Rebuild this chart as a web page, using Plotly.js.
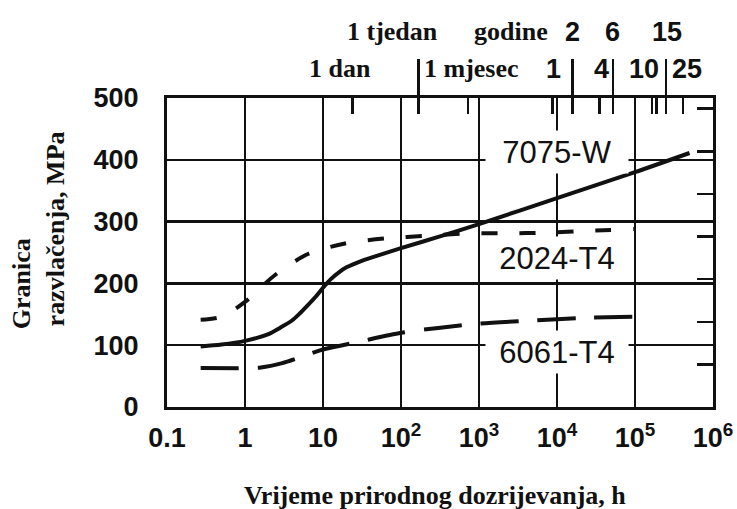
<!DOCTYPE html>
<html>
<head>
<meta charset="utf-8">
<script src="https://cdn.plot.ly/plotly-3.0.1.min.js"></script>
<style>html,body{margin:0;padding:0;background:#fff;}#chart{width:737px;height:509px;}</style>
</head>
<body>
<div id="chart"></div>
<script>
// ---- data (hours vs yield strength, MPa) ----
const hours7075 = [0.27, 0.5, 1, 2, 2.8, 4, 5, 6.3, 8, 10, 12.6, 16, 20, 32, 50, 100, 316, 1000, 1e4, 1e5, 5e5];
const mpa7075   = [98, 101, 107, 118, 128, 140, 151, 164, 178, 193, 207, 218, 226, 237, 245, 257, 276, 296, 338, 380, 411];

const hours2024 = [0.27, 0.5, 1, 2.45, 6.5, 20, 66, 216, 725, 2150, 7400, 24000, 1e5];
const mpa2024   = [141, 146, 170, 214, 248, 265, 273, 277, 281, 281, 282, 285, 288];

const hours6061 = [0.27, 1, 1.6, 3, 5, 10, 30, 100, 300, 1000, 5000, 2e4, 1e5];
const mpa6061   = [63, 63, 64, 71, 80, 93, 106, 120, 128, 135, 140, 144, 146];

const seriesNames = ['7075-W', '2024-T4', '6061-T4'];

// bottom axis ticks
const xTickVals = [0.1, 1, 10, 100, 1000, 1e4, 1e5, 1e6];
const xTickText = ['0.1', '1', '10', '10<sup>2</sup>', '10<sup>3</sup>', '10<sup>4</sup>', '10<sup>5</sup>', '10<sup>6</sup>'];
const yTickVals = [0, 100, 200, 300, 400, 500];

// top time-scale ticks (hours)
const topShortTicks = [24, 720, 8760, 35040, 165000, 190000, 410000];
const topLongTicks  = [168, 15800, 52000, 248000];
// right-side ticks (ksi)
const ksiTicks = [10, 20, 30, 40, 50, 60, 70];
const mpaPerKsi = 6.894757;

// top labels: text, hour position, row
const topLabelText  = ['1 tjedan', 'godine', '2', '6', '15', '1 dan', '1 mjesec', '1', '4', '10', '25'];
const topLabelHours = [77, 2580, 16000, 52000, 257000, 16.6, 800, 8900, 37500, 130000, 460000];
const topLabelRow   = [1, 1, 1, 1, 1, 2, 2, 2, 2, 2, 2];
const topLabelSerif = [true, true, false, false, false, true, true, false, false, false, false];

// curve label positions (hours, MPa)
const curveLabelHours = [1e4, 1e4, 1e4];
const curveLabelMpa   = [412, 241, 89];

const serif = "'Liberation Serif', 'Times New Roman', serif";
const sans = "'Liberation Sans', Arial, sans-serif";

const hidden = {color: 'rgba(0,0,0,0)', width: 0};
const traces = [
  {x: hours7075, y: mpa7075, name: seriesNames[0], mode: 'lines',
   line: {color: '#111', width: 4, shape: 'spline', smoothing: 0.8}},
  {x: hours2024, y: mpa2024, name: seriesNames[1], mode: 'lines',
   line: {color: '#111', width: 4, dash: '16px,22px', shape: 'spline', smoothing: 0.8}},
  {x: hours6061, y: mpa6061, name: seriesNames[2], mode: 'lines',
   line: {color: '#111', width: 4, dash: '38px,19px', shape: 'spline', smoothing: 0.8}},
  // invisible carriers so the extra tick axes are drawn
  {x: hours7075, y: mpa7075, xaxis: 'x2', yaxis: 'y', mode: 'lines', line: hidden, hoverinfo: 'skip'},
  {x: hours7075, y: mpa7075, xaxis: 'x3', yaxis: 'y', mode: 'lines', line: hidden, hoverinfo: 'skip'},
  {x: hours7075, y: mpa7075.map(v => v / mpaPerKsi), xaxis: 'x', yaxis: 'y2', mode: 'lines', line: hidden, hoverinfo: 'skip'}
];

const annotations = [];
for (let i = 0; i < topLabelText.length; i++) {
  annotations.push({
    xref: 'x', yref: 'paper', x: Math.log10(topLabelHours[i]),
    y: topLabelRow[i] === 1 ? 1.215 : 1.095,
    text: '<b>' + topLabelText[i] + '</b>',
    showarrow: false, xanchor: 'center', yanchor: 'middle',
    font: topLabelSerif[i] ? {family: serif, size: 26, color: '#111'}
                           : {family: sans, size: 27, color: '#111'}
  });
}
for (let i = 0; i < seriesNames.length; i++) {
  annotations.push({
    xref: 'x', yref: 'y', x: Math.log10(curveLabelHours[i]), y: curveLabelMpa[i],
    text: seriesNames[i], showarrow: false, xanchor: 'center', yanchor: 'middle',
    bgcolor: '#fff', width: 142, height: 42, borderpad: 0,
    font: {family: sans, size: 31, color: '#111'}
  });
}
// axis titles
annotations.push({xref: 'paper', yref: 'paper', x: 0.49, y: -0.285, showarrow: false,
  text: '<b>Vrijeme prirodnog dozrijevanja, h</b>', xanchor: 'center', yanchor: 'middle',
  font: {family: serif, size: 26, color: '#111'}});
annotations.push({xref: 'paper', yref: 'paper', x: -0.266, y: 0.40, showarrow: false,
  text: '<b>Granica</b>', textangle: -90, xanchor: 'center', yanchor: 'middle',
  font: {family: serif, size: 26, color: '#111'}});
annotations.push({xref: 'paper', yref: 'paper', x: -0.205, y: 0.575, showarrow: false,
  text: '<b>razvlačenja, MPa</b>', textangle: -90, xanchor: 'center', yanchor: 'middle',
  font: {family: serif, size: 26, color: '#111'}});

const tickFont = {family: sans, size: 27, color: '#111', weight: 'bold'};

const layout = {
  width: 737, height: 509,
  margin: {l: 167, r: 24, t: 98, b: 102, pad: 0},
  paper_bgcolor: '#fff', plot_bgcolor: '#fff',
  showlegend: false,
  xaxis: {type: 'log', range: [-1, 6], tickvals: xTickVals, ticktext: xTickText,
    showgrid: true, gridcolor: '#111', gridwidth: 2.5,
    showline: true, mirror: true, linecolor: '#111', linewidth: 3,
    ticks: 'outside', ticklen: 5, tickcolor: 'rgba(0,0,0,0)',
    tickfont: tickFont, zeroline: false},
  yaxis: {range: [0, 500], tickvals: yTickVals,
    showgrid: true, gridcolor: '#111', gridwidth: 2.5,
    showline: true, mirror: true, linecolor: '#111', linewidth: 3,
    ticks: 'outside', ticklen: 20, tickcolor: 'rgba(0,0,0,0)',
    tickfont: tickFont, zeroline: false},
  xaxis2: {type: 'log', range: [-1, 6], overlaying: 'x', side: 'top', anchor: 'y',
    tickvals: topShortTicks.concat(topLongTicks), ticks: 'inside', ticklen: 16, tickwidth: 2.5,
    tickcolor: '#111', showticklabels: false, showgrid: false, zeroline: false, showline: false},
  xaxis3: {type: 'log', range: [-1, 6], overlaying: 'x', side: 'top', anchor: 'y',
    tickvals: topLongTicks, ticks: 'outside', ticklen: 38, tickwidth: 2.5,
    tickcolor: '#111', showticklabels: false, showgrid: false, zeroline: false, showline: false},
  yaxis2: {range: [0, 500 / mpaPerKsi], overlaying: 'y', side: 'right', anchor: 'x',
    tickvals: ksiTicks, ticks: 'inside', ticklen: 16, tickwidth: 2.5, tickcolor: '#111',
    showticklabels: false, showgrid: false, zeroline: false, showline: false},
  annotations: annotations
};

Plotly.newPlot('chart', traces, layout, {displayModeBar: false, staticPlot: true});
</script>
</body>
</html>
